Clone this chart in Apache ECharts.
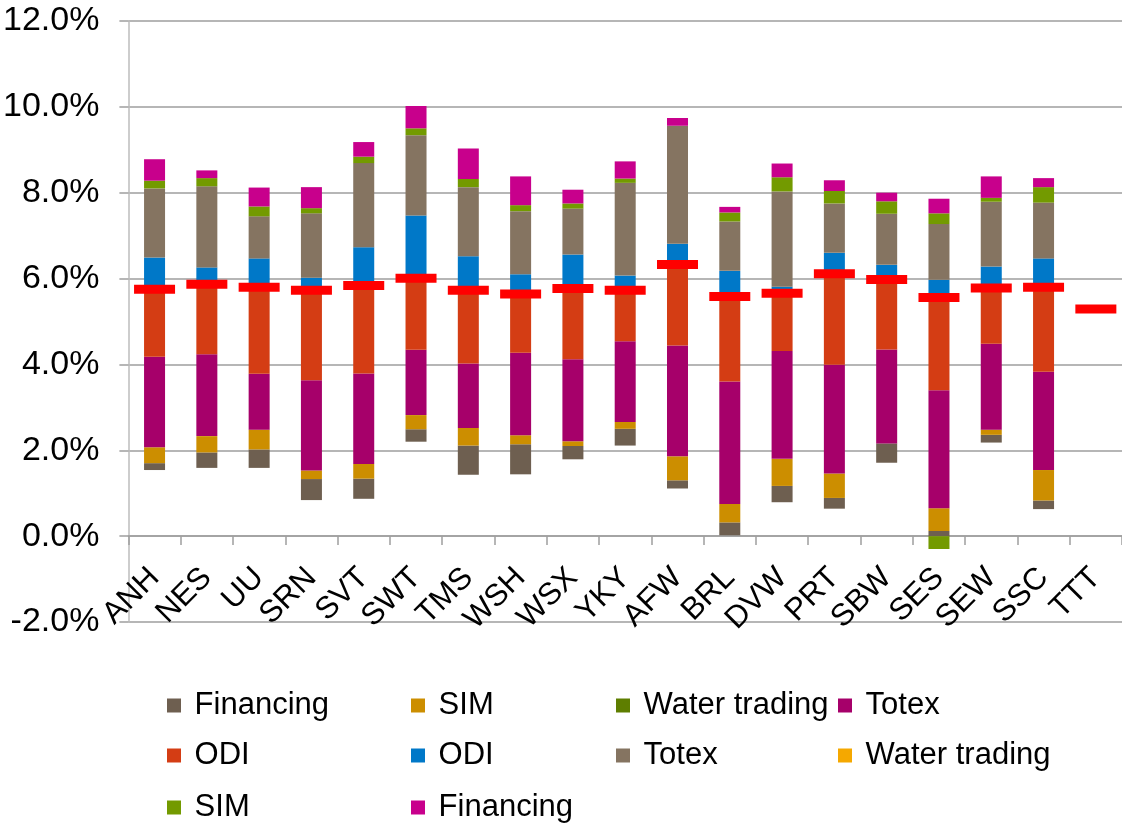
<!DOCTYPE html>
<html>
<head>
<meta charset="utf-8">
<title>Return ranges by company</title>
<script src="https://cdn.jsdelivr.net/npm/echarts@6/dist/echarts.min.js"></script>
<style>
    html, body { margin: 0; padding: 0; background: #fff; }
    #myEcharts { width: 1122px; height: 823px; }
</style>
</head>
<body>
<div id="myEcharts"></div>
<script>
// values in %
const categories = ['ANH', 'NES', 'UU', 'SRN', 'SVT', 'SWT', 'TMS', 'WSH', 'WSX', 'YKY',
    'AFW', 'BRL', 'DVW', 'PRT', 'SBW', 'SES', 'SEW', 'SSC', 'TTT'];

// invisible base of each bar
const base = [1.54, 1.59, 1.59, 0.84, 0.87, 2.20, 1.43, 1.44, 1.79, 2.11, 1.11, 0.02, 0.79, 0.64, 1.71, 0.00, 2.18, 0.63, 0];

// downside
const financingDown = [0.16, 0.36, 0.43, 0.49, 0.47, 0.29, 0.68, 0.70, 0.31, 0.39, 0.19, 0.30, 0.38, 0.25, 0.45, 0.12, 0.18, 0.20, 0];
const simDown = [0.37, 0.38, 0.46, 0.20, 0.34, 0.33, 0.41, 0.21, 0.11, 0.16, 0.56, 0.43, 0.63, 0.57, 0, 0.53, 0.12, 0.71, 0];
const waterDown = [0, 0, 0, 0, 0, 0, 0, 0, 0, 0, 0, 0, 0, 0, 0, 0, 0, 0, 0];
const totexDown = [2.11, 1.91, 1.30, 2.10, 2.11, 1.52, 1.50, 1.92, 1.91, 1.88, 2.58, 2.85, 2.51, 2.53, 2.19, 2.75, 2.00, 2.29, 0];
const odiDown = [1.57, 1.63, 2.02, 2.10, 2.05, 1.67, 1.71, 1.37, 1.65, 1.19, 1.89, 1.98, 1.35, 2.12, 1.63, 2.16, 1.30, 1.97, 0];

// upside
const odiUp = [0.74, 0.39, 0.67, 0.29, 0.89, 1.46, 0.79, 0.46, 0.79, 0.34, 0.48, 0.60, 0.15, 0.49, 0.34, 0.41, 0.50, 0.67, 0];
const totexUp = [1.61, 1.89, 0.98, 1.50, 1.96, 1.87, 1.61, 1.47, 1.07, 2.16, 2.75, 1.15, 2.22, 1.15, 1.19, 1.30, 1.51, 1.30, 0];
const waterUp = [0, 0, 0, 0, 0, 0, 0, 0, 0, 0, 0, 0, 0, 0, 0, 0, 0, 0, 0];
const simUp = [0.18, 0.19, 0.23, 0.12, 0.15, 0.16, 0.19, 0.14, 0.12, 0.10, 0, 0.21, 0.33, 0.29, 0.29, 0.25, 0.09, 0.36, 0];
const financingUp = [0.50, 0.18, 0.44, 0.49, 0.34, 0.52, 0.71, 0.67, 0.32, 0.40, 0.18, 0.13, 0.32, 0.25, 0.20, 0.34, 0.50, 0.21, 0];
// SES SIM piece that sits below zero
const simBelowZero = [0, 0, 0, 0, 0, 0, 0, 0, 0, 0, 0, 0, 0, 0, 0, -0.30, 0, 0, 0];

// red marker (base return)
const marker = [5.75, 5.87, 5.80, 5.73, 5.84, 6.01, 5.73, 5.64, 5.77, 5.73, 6.33, 5.58, 5.66, 6.11, 5.98, 5.56, 5.78, 5.80, 5.29];

const yTicks = { min: -2, max: 12, step: 2 };

const font = 'Liberation Sans, Arial, sans-serif';

function bar(name, color, data) {
    return {
        name: name,
        type: 'bar',
        stack: 'total',
        barWidth: 21,
        data: data,
        itemStyle: { color: color }
    };
}

const series = [
    {
        name: 'base', type: 'bar', stack: 'total', barWidth: 21, data: base,
        itemStyle: { color: 'transparent' }, silent: true
    },
    bar('Financing|dn', '#6E5F50', financingDown),
    bar('SIM|dn', '#CC8E00', simDown),
    bar('Water trading|dn', '#5E7E00', waterDown),
    bar('Totex|dn', '#A6006A', totexDown),
    bar('ODI|dn', '#D43D14', odiDown),
    bar('ODI|up', '#0078C8', odiUp),
    bar('Totex|up', '#857461', totexUp),
    bar('Water trading|up', '#F5A800', waterUp),
    bar('SIM|up', '#739A00', simUp),
    bar('Financing|up', '#C8008C', financingUp),
    bar('SIM|neg', '#739A00', simBelowZero),
    {
        name: 'marker',
        type: 'scatter',
        symbol: 'rect',
        symbolSize: [41, 9],
        data: marker,
        itemStyle: { color: '#FF0000', opacity: 1 },
        z: 10
    }
];

// legend slots: [series name, left, top]
const legendSlots = [
    ['Financing|dn', 167, 690], ['SIM|dn', 411, 690], ['Water trading|dn', 616, 690], ['Totex|dn', 838, 690],
    ['ODI|dn', 167, 740], ['ODI|up', 411, 740], ['Totex|up', 616, 740], ['Water trading|up', 838, 740],
    ['SIM|up', 167, 792], ['Financing|up', 411, 792]
];

const legends = legendSlots.map(s => ({
    data: [s[0]],
    left: s[1],
    top: s[2],
    padding: 0,
    icon: 'rect',
    itemWidth: 14,
    itemHeight: 14,
    itemStyle: { borderWidth: 0 },
    formatter: n => ' ' + n.split('|')[0],
    textStyle: { fontSize: 31, color: '#000', fontFamily: font }
}));

const option = {
    animation: false,
    backgroundColor: '#fff',
    grid: { left: 127, right: -4, top: 21, bottom: 201 },
    legend: legends,
    xAxis: {
        type: 'category',
        data: categories,
        offset: -86,
        axisLine: { onZero: false, lineStyle: { color: '#9E9E9E', width: 1.5 } },
        axisTick: { show: true, length: 9, lineStyle: { color: '#9E9E9E', width: 1.5 } },
        axisLabel: {
            interval: 0,
            rotate: 45,
            margin: 37,
            fontSize: 31,
            color: '#000',
            fontFamily: font
        }
    },
    yAxis: {
        type: 'value',
        min: yTicks.min,
        max: yTicks.max,
        interval: yTicks.step,
        axisLine: { show: true, lineStyle: { color: '#BDBDBD', width: 1.5 } },
        axisTick: { show: true, length: 9, lineStyle: { color: '#9E9E9E', width: 1.5 } },
        splitLine: { lineStyle: { color: '#9E9E9E', width: 1.5 } },
        axisLabel: {
            margin: 29,
            fontSize: 34,
            color: '#000',
            fontFamily: font,
            formatter: v => v.toFixed(1) + '%'
        }
    },
    series: series
};

let chart = echarts.init(document.getElementById('myEcharts'));
chart.setOption(option);
</script>
</body>
</html>
